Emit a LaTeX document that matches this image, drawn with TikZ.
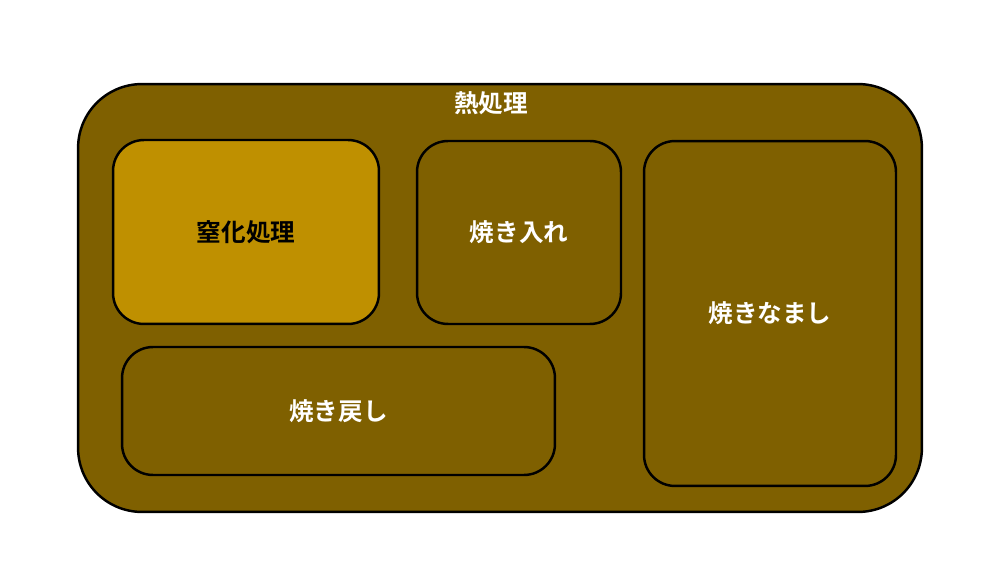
\documentclass[tikz,border=0pt]{standalone}
\usepackage{fontspec}
\setmainfont{Noto Sans CJK JP}[BoldFont={* Bold}]
\definecolor{olive}{HTML}{7F6000}
\definecolor{gold}{HTML}{BF9000}
\begin{document}
\begin{tikzpicture}[x=0.02cm, y=-0.02cm, line width=1.4pt, font=\fontsize{14pt}{16pt}\selectfont\bfseries,
  main/.style = {draw, rounded corners=0.62cm, fill=olive, text=white}]
\useasboundingbox (0,0) rectangle (1000,563);
\node[main, rounded corners=1.28cm, minimum width=16.88cm, minimum height=8.56cm] (heat) at (500,298) {};
\node[text=white] (title) at (491,103) {熱処理};
\node[main, fill=gold, text=black, minimum width=5.32cm, minimum height=3.68cm] (nitride) at (246,232) {窒化処理};
\node[main, minimum width=4.08cm, minimum height=3.66cm] (quench) at (519,232.5) {焼き入れ};
\node[main, minimum width=5.04cm, minimum height=6.9cm] (anneal) at (770,313.5) {焼きなまし};
\node[main, minimum width=8.66cm, minimum height=2.56cm] (temper) at (338.5,411) {焼き戻し};
\end{tikzpicture}
\end{document}
